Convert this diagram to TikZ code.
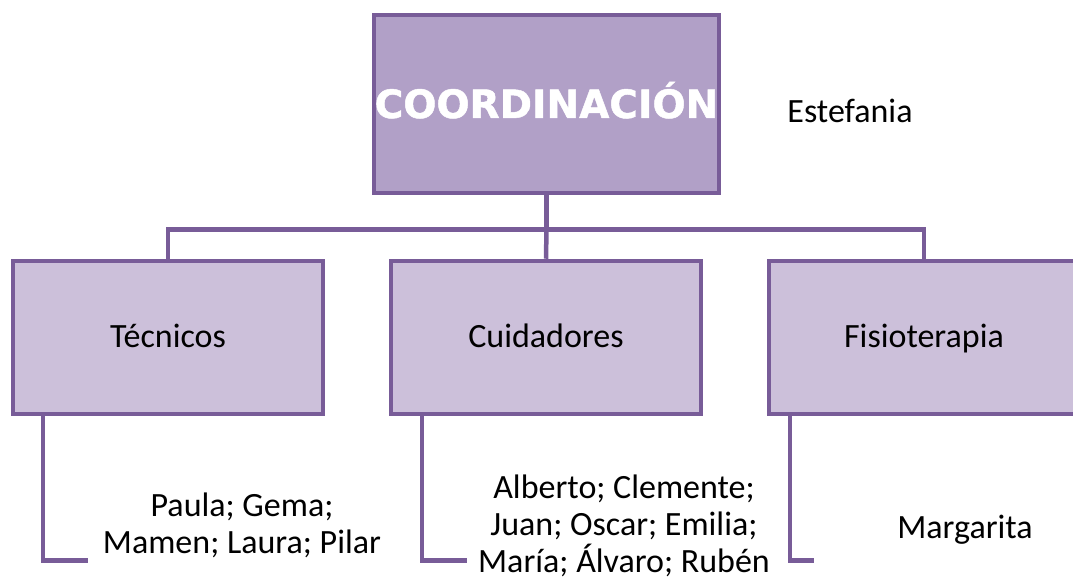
\documentclass[tikz,border=0pt]{standalone}
\usepackage{fontspec}
\setmainfont{Carlito}
\newfontfamily\headfont{DejaVu Sans}[BoldFeatures={FakeBold=1.2}]
\definecolor{lila}{HTML}{B1A0C7}
\definecolor{lilaclaro}{HTML}{CCC0DA}
\definecolor{lilaborde}{HTML}{785C98}

\begin{document}
\begin{tikzpicture}[x=1pt,y=-1pt,
  jefe/.style={draw=lilaborde,line width=4.5pt,fill=lila,minimum width=345pt,minimum height=178pt,
    inner sep=0pt,text=white,font=\headfont\bfseries\fontsize{39}{47}\selectfont,text height=28pt,text depth=0pt},
  area/.style={draw=lilaborde,line width=4.5pt,fill=lilaclaro,minimum width=310pt,minimum height=153pt,
    inner sep=0pt,font=\fontsize{34}{40}\selectfont,text height=25pt,text depth=6pt},
  rama/.style={draw=lilaborde,line width=4.5pt},
  nombres/.style={align=center,inner sep=0pt,font=\fontsize{34}{37}\selectfont}]
\useasboundingbox (0,0) rectangle (1073,583);
\node[jefe] (coord) at (546.5,104) {COORDINACIÓN};
\node[nombres,anchor=base] (estefania) at (850,123) {Estefania};
\node[area] (tecnicos) at (168,337.5) {Técnicos};
\node[area] (cuidadores) at (546,337.5) {Cuidadores};
\node[area] (fisio) at (924,337.5) {Fisioterapia};
% ramas
\draw[rama] (coord.south) -- ++(0,34) coordinate (cruce);
\draw[rama] (tecnicos.north) |- (cruce) -| (fisio.north);
\draw[rama] (cruce) -- (cuidadores.north);
\draw[rama] ([xshift=32pt]tecnicos.south west) |- ++(45,144);
\draw[rama] ([xshift=33pt]cuidadores.south west) |- ++(45,144);
\draw[rama] ([xshift=23pt]fisio.south west) |- ++(24,144);
% nombres
\node[nombres] (tec-nombres) at (242,525) {Paula; Gema;\\Mamen; Laura; Pilar};
\node[nombres] (cui-nombres) at (624,526) {Alberto; Clemente;\\Juan; Oscar; Emilia;\\María; Álvaro; Rubén};
\node[nombres,anchor=base] (fis-nombres) at (965,538) {Margarita};
\end{tikzpicture}
\end{document}
